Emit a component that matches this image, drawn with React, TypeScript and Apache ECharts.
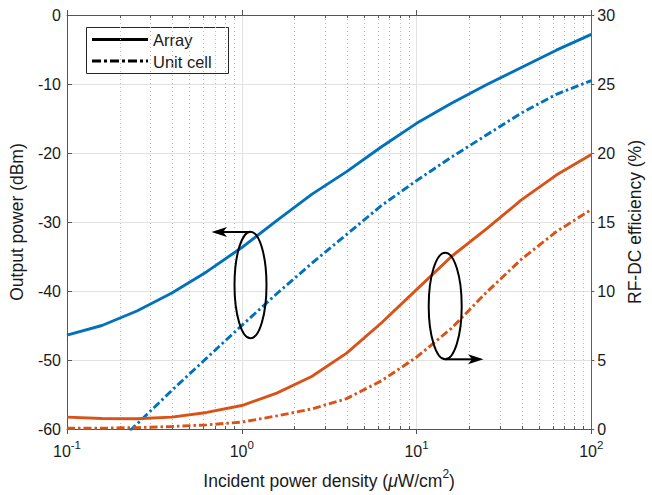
import React, { useEffect, useRef } from "react";
import * as echarts from "echarts";

// Incident power density (µW/cm²)
const densities = [0.1, 0.1585, 0.2512, 0.3981, 0.631, 1, 1.585, 2.512, 3.981, 6.31, 10, 15.85, 25.12, 39.81, 63.1, 100];
// Output power (dBm)
const arrayPower = [-46.4, -45.0, -42.9, -40.3, -37.2, -33.7, -29.8, -26.0, -22.7, -19.1, -15.7, -12.8, -10.1, -7.6, -5.1, -2.8];
const unitPower = [-68.0, -64.0, -59.3, -54.4, -49.7, -45.0, -40.4, -36.0, -31.8, -27.6, -24.0, -20.6, -17.4, -14.2, -11.5, -9.5];
// RF-DC efficiency (%)
const arrayEff = [0.86, 0.76, 0.74, 0.86, 1.2, 1.7, 2.6, 3.8, 5.5, 7.7, 10.1, 12.5, 14.5, 16.6, 18.4, 19.9];
const unitEff = [0.05, 0.06, 0.1, 0.18, 0.3, 0.5, 0.95, 1.45, 2.2, 3.5, 5.2, 7.3, 9.9, 12.3, 14.3, 15.9];
// minor decade multipliers
const decades = [0.1, 1, 10];
const multipliers = [2, 3, 4, 5, 6, 7, 8, 9];

const FONT = "Liberation Sans, Arial, Helvetica, sans-serif";
const BLUE = "#0072BD";
const ORANGE = "#D95319";
const AXIS = "#555555";
const TXT = "#1a1a1a";

export default function App() {
  const ref = useRef<HTMLDivElement>(null);
  useEffect(() => {
    const chart = echarts.init(ref.current!, null, { renderer: "svg" });
    const minorVals: number[] = [];
    decades.forEach((d) => multipliers.forEach((m) => minorVals.push(+(d * m).toPrecision(6))));
    const dashDot = [8, 3, 2.5, 3];
    const pair = (ys: number[]) => densities.map((x, i) => [x, ys[i]]);

    const option: any = {
      animation: false,
      backgroundColor: "#ffffff",
      grid: { left: 64, right: 53, top: 15, bottom: 63, containLabel: false },
      xAxis: [
        {
          type: "log",
          logBase: 10,
          min: 0.1,
          max: 100,
          position: "bottom",
          name: "{t|Incident power density (}{i|μ}{t|W/cm}{s|2}{t|)}",
          nameLocation: "middle",
          nameGap: 39,
          nameTextStyle: {
            rich: {
              t: { fontSize: 17.5, fontFamily: FONT, color: TXT, lineHeight: 22, verticalAlign: "bottom" },
              i: { fontSize: 17.5, fontFamily: FONT, color: TXT, fontStyle: "italic", lineHeight: 22, verticalAlign: "bottom" },
              s: { fontSize: 12, fontFamily: FONT, color: TXT, lineHeight: 22, verticalAlign: "top" },
            },
          },
          axisLine: { show: true, lineStyle: { color: AXIS, width: 1 } },
          axisTick: { show: true, inside: true, length: 5, lineStyle: { color: AXIS } },
          splitLine: { show: true, lineStyle: { color: "#e2e2e2", width: 1 } },
          axisLabel: {
            margin: 10,
            formatter: (v: number) => `{b|10}{s|${Math.round(Math.log10(v))}}`,
            rich: {
              b: { fontSize: 16, fontFamily: FONT, color: TXT, lineHeight: 20, verticalAlign: "bottom" },
              s: { fontSize: 11.5, fontFamily: FONT, color: TXT, lineHeight: 20, verticalAlign: "top" },
            },
          },
        },
        {
          type: "log",
          logBase: 10,
          min: 0.1,
          max: 100,
          position: "top",
          axisLine: { show: true, lineStyle: { color: AXIS, width: 1 } },
          axisTick: { show: true, inside: true, length: 5, lineStyle: { color: AXIS } },
          axisLabel: { show: false },
          splitLine: { show: false },
        },
      ],
      yAxis: [
        {
          type: "value",
          min: -60,
          max: 0,
          interval: 10,
          position: "left",
          name: "Output power (dBm)",
          nameLocation: "middle",
          nameGap: 41,
          nameTextStyle: { fontSize: 17.5, fontFamily: FONT, color: TXT },
          axisLine: { show: true, lineStyle: { color: AXIS, width: 1 } },
          axisTick: { show: true, inside: true, length: 5, lineStyle: { color: AXIS } },
          axisLabel: { fontSize: 16, fontFamily: FONT, color: TXT, margin: 6 },
          splitLine: { show: true, lineStyle: { color: "#e2e2e2", width: 1 } },
        },
        {
          type: "value",
          min: 0,
          max: 30,
          interval: 5,
          position: "right",
          name: "RF-DC efficiency (%)",
          nameLocation: "middle",
          nameGap: 30,
          nameTextStyle: { fontSize: 17.5, fontFamily: FONT, color: TXT },
          axisLine: { show: true, lineStyle: { color: "#6d5b52", width: 1 } },
          axisTick: { show: true, inside: false, length: 3, lineStyle: { color: "#6d5b52" } },
          axisLabel: { fontSize: 16, fontFamily: FONT, color: TXT, margin: 6 },
          splitLine: { show: false },
        },
      ],
      series: [
        {
          type: "custom",
          xAxisIndex: 0,
          yAxisIndex: 0,
          z: 1,
          silent: true,
          data: minorVals.map((v) => [v, -60]),
          encode: { x: 0, y: 1 },
          renderItem: (params: any, api: any) => {
            const v = api.value(0);
            const top = api.coord([v, 0]);
            const bot = api.coord([v, -60]);
            const x = Math.round(top[0]) + 0.5;
            return {
              type: "group",
              children: [
                {
                  type: "line",
                  shape: { x1: x, y1: top[1], x2: x, y2: bot[1] },
                  style: { stroke: "#bdbdbd", lineWidth: 1, lineDash: [1, 3] },
                },
                {
                  type: "line",
                  shape: { x1: x, y1: bot[1], x2: x, y2: bot[1] - 3 },
                  style: { stroke: AXIS, lineWidth: 1 },
                },
                {
                  type: "line",
                  shape: { x1: x, y1: top[1], x2: x, y2: top[1] + 3 },
                  style: { stroke: AXIS, lineWidth: 1 },
                },
              ],
            };
          },
        },
        {
          name: "Array power",
          type: "line",
          xAxisIndex: 0,
          yAxisIndex: 0,
          data: pair(arrayPower),
          showSymbol: false,
          z: 3,
          lineStyle: { color: BLUE, width: 2.9 },
          itemStyle: { color: BLUE },
        },
        {
          name: "Unit cell power",
          type: "line",
          xAxisIndex: 0,
          yAxisIndex: 0,
          data: pair(unitPower),
          showSymbol: false,
          z: 3,
          lineStyle: { color: BLUE, width: 2.9, type: dashDot, cap: "butt" },
          itemStyle: { color: BLUE },
        },
        {
          name: "Array efficiency",
          type: "line",
          xAxisIndex: 0,
          yAxisIndex: 1,
          data: pair(arrayEff),
          showSymbol: false,
          z: 3,
          lineStyle: { color: ORANGE, width: 2.9 },
          itemStyle: { color: ORANGE },
        },
        {
          name: "Unit cell efficiency",
          type: "line",
          xAxisIndex: 0,
          yAxisIndex: 1,
          data: pair(unitEff),
          showSymbol: false,
          z: 3,
          lineStyle: { color: ORANGE, width: 2.9, type: dashDot, cap: "butt" },
          itemStyle: { color: ORANGE },
        },
      ],
      graphic: [
        // legend box
        {
          type: "group",
          z: 100,
          children: [
            { type: "rect", shape: { x: 86.5, y: 27.5, width: 142, height: 46 }, style: { fill: "#ffffff", stroke: "#262626", lineWidth: 1 } },
            { type: "line", shape: { x1: 92, y1: 39.5, x2: 148, y2: 39.5 }, style: { stroke: "#000", lineWidth: 3 } },
            { type: "line", shape: { x1: 92, y1: 61, x2: 148, y2: 61 }, style: { stroke: "#000", lineWidth: 3, lineDash: [9, 3, 3, 3] } },
            { type: "text", x: 153, y: 40, style: { text: "Array", font: `16.5px ${FONT}`, fill: TXT, verticalAlign: "middle" } },
            { type: "text", x: 153, y: 61.5, style: { text: "Unit cell", font: `16.5px ${FONT}`, fill: TXT, verticalAlign: "middle" } },
          ],
        },
        // left annotation
        { type: "ellipse", z: 50, shape: { cx: 250.5, cy: 285, rx: 16, ry: 53.3 }, style: { fill: "none", stroke: "#000", lineWidth: 2 } },
        { type: "line", z: 50, shape: { x1: 250.5, y1: 232, x2: 220, y2: 232 }, style: { stroke: "#000", lineWidth: 2 } },
        { type: "polygon", z: 50, shape: { points: [[211.5, 232], [227, 227], [223, 232], [227, 237]] }, style: { fill: "#000" } },
        // right annotation
        { type: "ellipse", z: 50, shape: { cx: 445.2, cy: 306, rx: 16.5, ry: 53.3 }, style: { fill: "none", stroke: "#000", lineWidth: 2 } },
        { type: "line", z: 50, shape: { x1: 445.2, y1: 359.3, x2: 475, y2: 359.3 }, style: { stroke: "#000", lineWidth: 2 } },
        { type: "polygon", z: 50, shape: { points: [[483.5, 359.3], [468, 354.3], [472, 359.3], [468, 364.3]] }, style: { fill: "#000" } },
      ],
    };
    chart.setOption(option);
    return () => chart.dispose();
  }, []);
  return <div ref={ref} style={{ position: "fixed", left: 0, top: 0, width: 652, height: 495 }} />;
}
